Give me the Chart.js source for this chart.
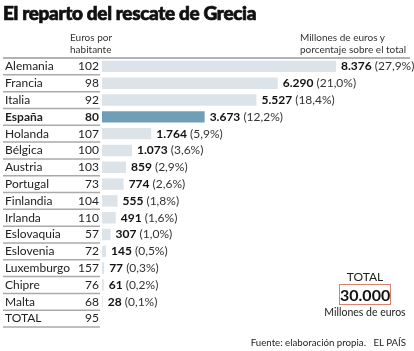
<!DOCTYPE html>
<html>
<head>
<meta charset="utf-8">
<script src="https://cdn.jsdelivr.net/npm/chart.js@4"></script>
<style>
  body { margin: 0; background: #fff; font-family: Lato, sans-serif; color: #222; }
  #wrap { position: relative; width: 414px; height: 351px; overflow: hidden; }
  canvas { position: absolute; left: 0; top: 0; }
  .t { position: absolute; white-space: nowrap; }
  #title { left: 3px; top: 1px; font-size: 19px; font-weight: 900; letter-spacing: -0.35px; color: #111;
           -webkit-text-stroke: 0.7px #111; }
  .head { font-size: 10px; line-height: 12px; color: #333; }
  #totalBox { position: absolute; left: 339px; top: 284px; width: 50px; height: 19px; border: 1px solid #d9836f;
              font-weight: 700; font-size: 16px; line-height: 19px; text-align: center; color: #111; }
</style>
</head>
<body>
<div id="wrap">
  <canvas id="main_chart" width="414" height="351"></canvas>
  <div class="t" id="title">El reparto del rescate de Grecia</div>
  <div class="t head" style="left:70px; top:31px;">Euros por<br>habitante</div>
  <div class="t head" style="left:300px; top:31px;">Millones de euros y<br>porcentaje sobre el total</div>
  <div class="t" style="left:340px; top:269px; width:50px; text-align:center; font-size:12px;">TOTAL</div>
  <div id="totalBox">30.000</div>
  <div class="t" style="left:320px; top:306px; width:90px; text-align:center; font-size:10.5px;">Millones de euros</div>
  <div class="t" style="right:8px; top:336px; font-size:9.7px;">Fuente: elaboración propia.&nbsp;&nbsp;&nbsp;EL PAÍS</div>
</div>
<script>
const countries = ["Alemania", "Francia", "Italia", "España", "Holanda", "Bélgica", "Austria", "Portugal",
  "Finlandia", "Irlanda", "Eslovaquia", "Eslovenia", "Luxemburgo", "Chipre", "Malta", "TOTAL"];
const eurosPorHabitante = [102, 98, 92, 80, 107, 100, 103, 73, 104, 110, 57, 72, 157, 76, 68, 95];
const millones = [8376, 6290, 5527, 3673, 1764, 1073, 859, 774, 555, 491, 307, 145, 77, 61, 28, null];
const porcentaje = [27.9, 21.0, 18.4, 12.2, 5.9, 3.6, 2.9, 2.6, 1.8, 1.6, 1.0, 0.5, 0.3, 0.2, 0.1, null];

const highlight = "España";
const font = 'Lato, sans-serif';

function fmtMiles(v) {
  return String(v).replace(/\B(?=(\d{3})+(?!\d))/g, ".");
}
function fmtPct(v) {
  return "(" + v.toFixed(1).replace(".", ",") + "%)";
}

// left table: names, euros per habitant and row separators
const tablePlugin = {
  id: 'table',
  afterDraw(chart) {
    const ctx = chart.ctx;
    const y = chart.scales.y;
    const x = chart.scales.x;
    const half = (y.getPixelForValue(1) - y.getPixelForValue(0)) / 2;
    ctx.save();
    // top rule
    ctx.strokeStyle = '#999';
    ctx.lineWidth = 1.5;
    ctx.beginPath();
    ctx.moveTo(3, y.getPixelForValue(0) - half);
    ctx.lineTo(410, y.getPixelForValue(0) - half);
    ctx.stroke();
    countries.forEach((c, i) => {
      const py = y.getPixelForValue(i);
      const bold = c === highlight;
      ctx.fillStyle = '#222';
      ctx.textBaseline = 'middle';
      ctx.font = (bold ? '700 ' : '400 ') + '12px ' + font;
      ctx.textAlign = 'left';
      ctx.fillText(c, 5, py);
      ctx.textAlign = 'right';
      ctx.fillText(eurosPorHabitante[i], 99, py);
      // row separator
      ctx.strokeStyle = '#aaa';
      ctx.lineWidth = 1.5;
      ctx.beginPath();
      ctx.moveTo(3, py + half);
      ctx.lineTo(100, py + half);
      ctx.stroke();
      // value label
      if (millones[i] != null) {
        const px = x.getPixelForValue(millones[i]) + 5;
        const a = fmtMiles(millones[i]);
        const b = ' ' + fmtPct(porcentaje[i]);
        ctx.textAlign = 'left';
        ctx.font = '700 12px ' + font;
        ctx.fillStyle = '#111';
        ctx.fillText(a, px, py);
        const w = ctx.measureText(a).width;
        ctx.font = '400 12px ' + font;
        ctx.fillStyle = '#333';
        ctx.fillText(b, px + w, py);
      }
    });
    ctx.restore();
  }
};

new Chart(document.getElementById('main_chart'), {
  type: 'bar',
  data: {
    labels: countries,
    datasets: [{
      data: millones,
      backgroundColor: countries.map(c => c === highlight ? '#6f9fb7' : '#dce4ea'),
      barPercentage: 0.68,
      categoryPercentage: 1,
      borderWidth: 0
    }]
  },
  options: {
    indexAxis: 'y',
    responsive: false,
    animation: false,
    layout: { padding: { left: 102, right: 8, top: 58, bottom: 24 } },
    scales: {
      x: { display: false, min: 0, max: 10880 },
      y: { display: false }
    },
    plugins: { legend: { display: false }, tooltip: { enabled: false } }
  },
  plugins: [tablePlugin]
});
</script>
</body>
</html>
